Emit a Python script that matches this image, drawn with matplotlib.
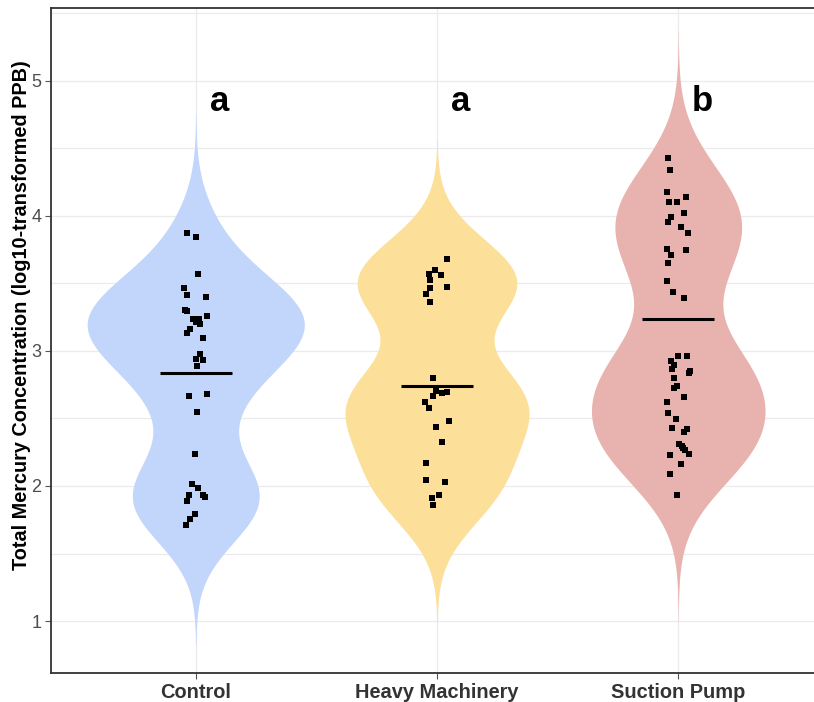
import numpy as np
import matplotlib
matplotlib.use("Agg")
import matplotlib.pyplot as plt
from matplotlib.ticker import MultipleLocator

plt.rcParams["font.family"] = ["Liberation Sans", "DejaVu Sans"]

# log10 total mercury (PPB) per treatment
groups = ["Control", "Heavy Machinery", "Suction Pump"]
control = [3.876, 3.847, 3.570, 3.469, 3.417, 3.402, 3.306, 3.299, 3.259, 3.235,
           3.235, 3.215, 3.200, 3.165, 3.136, 3.094, 2.980, 2.941, 2.931, 2.891,
           2.681, 2.669, 2.546, 2.237, 2.017, 1.983, 1.931, 1.931, 1.919, 1.889,
           1.795, 1.753, 1.709]
heavy = [3.681, 3.600, 3.570, 3.563, 3.524, 3.472, 3.464, 3.422, 3.361, 2.800,
         2.706, 2.699, 2.691, 2.667, 2.624, 2.580, 2.484, 2.435, 2.326, 2.170,
         2.042, 2.030, 1.936, 1.911, 1.857]
suction = [4.432, 4.341, 4.180, 4.139, 4.101, 4.101, 4.022, 3.993, 3.953, 3.916,
           3.872, 3.753, 3.746, 3.711, 3.654, 3.516, 3.439, 3.395, 2.963, 2.963,
           2.928, 2.896, 2.864, 2.854, 2.835, 2.802, 2.741, 2.728, 2.661, 2.620,
           2.539, 2.494, 2.430, 2.420, 2.402, 2.309, 2.296, 2.279, 2.267, 2.235,
           2.232, 2.163, 2.089, 1.931]
group_means = [2.84, 2.74, 3.24]
letters = ["a", "a", "b"]
fill_colors = ["#C2D5FA", "#FCDF99", "#E8B2AE"]

data = [np.array(control), np.array(heavy), np.array(suction)]


def bw_nrd0(x):
    sd = x.std(ddof=1)
    q75, q25 = np.percentile(x, [75, 25])
    lo = min(sd, (q75 - q25) / 1.34)
    return 0.9 * lo * len(x) ** -0.2


def gauss_kde(x, grid, bw):
    z = (grid[:, None] - x[None, :]) / bw
    return np.exp(-0.5 * z ** 2).sum(axis=1) / (len(x) * bw * np.sqrt(2 * np.pi))


# untrimmed densities, scaled so every violin has the same area
curves = []
for vals in data:
    bw = bw_nrd0(vals)
    grid = np.linspace(vals.min() - 3 * bw, vals.max() + 3 * bw, 512)
    curves.append((grid, gauss_kde(vals, grid, bw)))
dmax = max(d.max() for _, d in curves)

fig = plt.figure(figsize=(8.14, 7.02), dpi=100)
ax = fig.add_axes([51 / 814, 29 / 702, 772 / 814, 665 / 702])

rng = np.random.default_rng(11)
for i, (vals, (grid, dens)) in enumerate(zip(data, curves), start=1):
    half = 0.45 * dens / dmax
    ax.fill_betweenx(grid, i - half, i + half, color=fill_colors[i - 1], lw=0, zorder=2)
    xj = i + rng.uniform(-0.05, 0.05, len(vals))
    ax.scatter(xj, vals, marker="s", s=16, color="black", lw=0, zorder=3)
    ax.hlines(group_means[i - 1], i - 0.15, i + 0.15, color="black", lw=2.2, zorder=4)
    ax.text(i + 0.1, 4.78, letters[i - 1], fontsize=25, fontweight="bold",
            ha="center", va="baseline", zorder=5)

ax.set_xlim(0.4, 3.6)
ax.set_ylim(0.615, 5.54)
ax.set_xticks([1, 2, 3])
ax.set_xticklabels(groups, fontsize=14.4, fontweight="bold", color="#333333")
ax.set_yticks([1, 2, 3, 4, 5])
ax.yaxis.set_minor_locator(MultipleLocator(0.5))
ax.tick_params(axis="y", labelsize=13, labelcolor="#4D4D4D")
ax.tick_params(which="major", length=4, width=0.8, color="#555555", pad=3)
ax.tick_params(which="minor", length=0)

ax.set_axisbelow(True)
ax.grid(which="major", color="#EBEBEB", lw=0.9, zorder=0)
ax.grid(which="minor", axis="y", color="#EBEBEB", lw=0.9, zorder=0)

for side in ["left", "bottom", "top", "right"]:
    ax.spines[side].set_color("#333333")
    ax.spines[side].set_linewidth(1.3)

ax.set_ylabel("Total Mercury Concentration (log10-transformed PPB)",
              fontsize=14.3, fontweight="bold")
ax.yaxis.set_label_coords(-0.026, 0.538)

fig.savefig("out.png", dpi=100)
